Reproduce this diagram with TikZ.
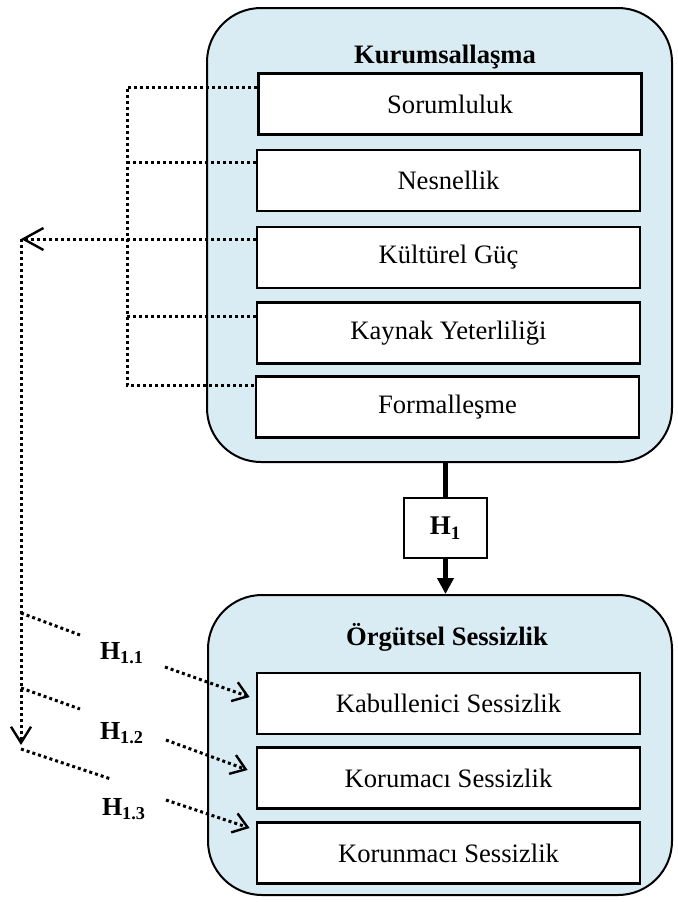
\documentclass[tikz,border=0pt]{standalone}
\usepackage{fontspec}
\setmainfont{Liberation Serif}
\usepackage{xcolor}
\usetikzlibrary{arrows.meta}
\definecolor{acikmavi}{RGB}{218,236,243}

\begin{document}
\begin{tikzpicture}[x=0.5pt, y=-0.5pt,
  kutu/.style={draw=black, line width=1pt, fill=acikmavi, rounded corners=27pt, inner sep=0pt},
  alt/.style={draw=black, line width=1.4pt, fill=white, minimum width=191.5pt, minimum height=30.5pt, inner sep=0pt, font=\fontsize{13.3}{15}\selectfont},
  baslik/.style={font=\bfseries\fontsize{13.3}{15}\selectfont, inner sep=1pt},
  hetiket/.style={font=\bfseries\fontsize{13}{15}\selectfont, inner sep=1pt},
  nokta/.style={line width=1.5pt, dash pattern=on 1.5pt off 1.5pt},
  ok/.style={-{Straight Barb[length=7pt, width=10pt, line width=1.2pt]}}]
  \useasboundingbox (0,0) rectangle (677,902);
  \node[kutu, minimum width=232.5pt, minimum height=227pt] (kurum) at (439.5,235) {};
  \node[kutu, minimum width=232pt, minimum height=150pt] (sessiz) at (440,745) {};
  \node[baslik] (kurumbaslik) at (445,57) {Kurumsallaşma};
  \node[baslik] (sessizbaslik) at (447,637) {Örgütsel Sessizlik};
  \node[alt] (sorum) at (450,104) {Sorumluluk};
  \node[alt] (nesnel) at (448.5,180.5) {Nesnellik};
  \node[alt] (kultur) at (448.5,257.5) {Kültürel Güç};
  \node[alt] (kaynak) at (448.5,333) {Kaynak Yeterliliği};
  \node[alt] (formal) at (447.5,407) {Formalleşme};
  \node[alt] (kabul) at (448.5,703.5) {Kabullenici Sessizlik};
  \node[alt] (korum) at (448.5,778) {Korumacı Sessizlik};
  \node[alt] (korun) at (448.5,853) {Korunmacı Sessizlik};
  \node[draw=black, line width=0.8pt, fill=white, minimum width=41.5pt, minimum height=30pt, inner sep=0pt, font=\bfseries\fontsize{13.5}{15}\selectfont] (h1) at (445.5,528) {H\textsubscript{1}};
  \draw[line width=2.5pt] (kurum.south -| h1) -- (h1.north);
  \draw[line width=2.5pt, -{Triangle[length=8pt, width=8pt]}] (h1.south) -- (sessiz.north -| h1);
  \coordinate (b1) at (127,87);
  \coordinate (b2) at (127,162);
  \coordinate (b4) at (127,316);
  \coordinate (b5) at (127,385);
  \coordinate (hub) at (21,239);
  \coordinate (hubalt) at (21,745);
  \draw[nokta] (sorum.west |- b1) -- (b1) -- (b5) -- (formal.west |- b5);
  \draw[nokta] (b2) -- (nesnel.west |- b2);
  \draw[nokta] (b4) -- (kaynak.west |- b4);
  \draw[nokta, -{Straight Barb[length=10pt, width=11pt, line width=1.2pt]}] (kultur.west |- hub) -- (hub);
  \draw[nokta, -{Straight Barb[length=8pt, width=10pt, line width=1.2pt]}] (hub) -- (hubalt);
  \coordinate (d1) at (21,613);
  \coordinate (d2) at (21,688);
  \coordinate (d3) at (21,749);
  \coordinate (u1) at (80,635);
  \coordinate (u2) at (80,709);
  \coordinate (u3) at (111,779);
  \draw[nokta] (d1) -- (u1);
  \draw[nokta] (d2) -- (u2);
  \draw[nokta] (d3) -- (u3);
  \node[hetiket] (h11) at (122,653) {H\textsubscript{1.1}};
  \node[hetiket] (h12) at (122,733) {H\textsubscript{1.2}};
  \node[hetiket] (h13) at (124,809) {H\textsubscript{1.3}};
  \coordinate (s1) at (165,667);
  \coordinate (s2) at (166,740);
  \coordinate (s3) at (166,800);
  \draw[nokta, ok] (s1) -- ([shift={(-3pt,3.25pt)}]kabul.west);
  \draw[nokta, ok] (s2) -- ([shift={(-4pt,4pt)}]korum.west);
  \draw[nokta, ok] (s3) -- ([shift={(-3pt,12.5pt)}]korun.west);
\end{tikzpicture}
\end{document}
